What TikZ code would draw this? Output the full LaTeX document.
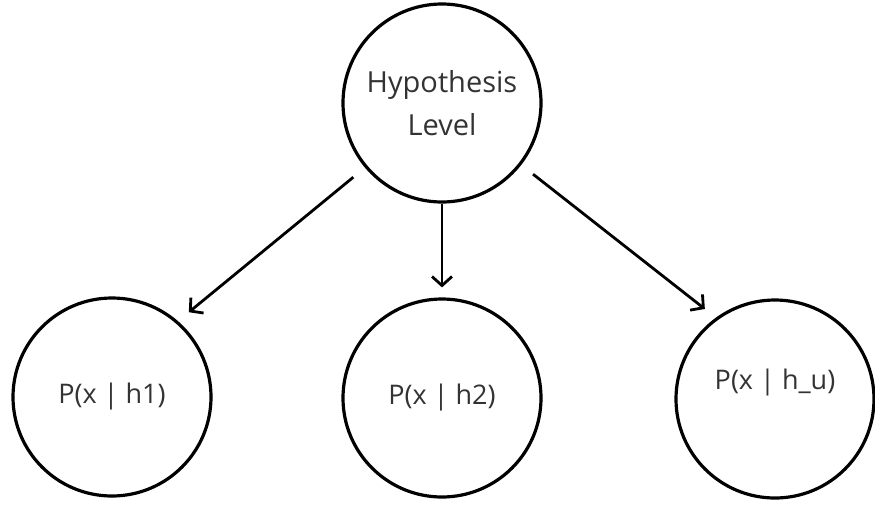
\documentclass[tikz,border=0pt]{standalone}
\usepackage{fontspec}
\setmainfont{Open Sans}
\usetikzlibrary{arrows.meta}

\begin{document}
\begin{tikzpicture}[x=1pt,y=-1pt,
   c/.style={draw,circle,line width=3.2pt,minimum size=198pt,inner sep=0pt,align=center,
     font=\fontsize{27}{43}\selectfont,text=black!80},
   a/.style={-{Straight Barb[length=9pt,width=20pt,line width=2.8pt]},line width=2.8pt,
     shorten <=15pt,shorten >=14pt}]
  \useasboundingbox (0,0) rectangle (875,504);
  \node[c,font=\fontsize{29}{43}\selectfont] (hyp) at (442,103) {Hypothesis\\Level};
  \node[c] (p1) at (112,397) {P(x | h1)};
  \node[c] (p2) at (442,398) {P(x | h2)};
  \node[c] (pu) at (775,399) {\raisebox{0pt}[0pt][0pt]{\raisebox{10pt}{P(x | h\_u)}}};
  \draw[a] (hyp.220) -- (p1.49);
  \draw[a,shorten <=0pt,shorten >=10pt] (hyp.south) -- (p2.north);
  \draw[a] (hyp.322) -- (pu.126);
\end{tikzpicture}
\end{document}
